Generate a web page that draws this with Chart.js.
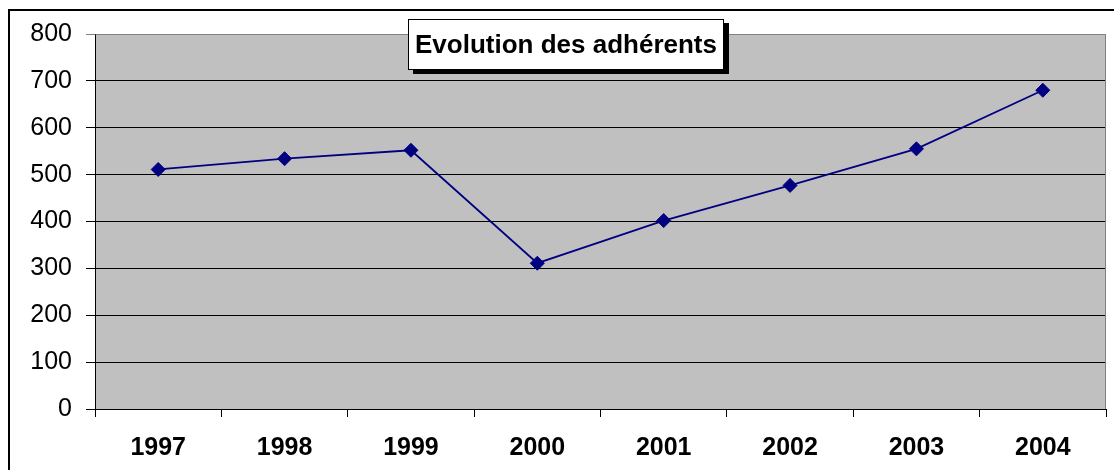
<!DOCTYPE html>
<html>
<head>
<meta charset="utf-8">
<script src="https://cdn.jsdelivr.net/npm/chart.js@4/dist/chart.umd.min.js"></script>
<style>
  html, body { margin: 0; padding: 0; background: #fff; }
  canvas { display: block; }
</style>
</head>
<body>
<canvas id="c" width="1114" height="470"></canvas>
<script>
const categories = ["1997", "1998", "1999", "2000", "2001", "2002", "2003", "2004"];
const adherents = [511, 534, 552, 311, 402, 477, 555, 680];
const chartTitle = "Evolution des adhérents";
const yMin = 0, yMax = 800, yStep = 100;

const FONT = "'Liberation Sans', Arial, sans-serif";

const decor = {
  id: 'decor',
  beforeDraw(chart) {
    const { ctx, chartArea: a } = chart;
    ctx.save();
    ctx.fillStyle = '#ffffff';
    ctx.fillRect(0, 0, chart.width, chart.height);
    ctx.fillStyle = '#c0c0c0';
    ctx.fillRect(a.left, a.top, a.right - a.left, a.bottom - a.top);
    ctx.restore();
  },
  beforeDatasetsDraw(chart) {
    const { ctx, chartArea: a } = chart;
    ctx.save();
    ctx.strokeStyle = '#808080';
    ctx.lineWidth = 1;
    ctx.beginPath();
    ctx.moveTo(Math.round(a.left) + 0.5, Math.round(a.top) + 0.5);
    ctx.lineTo(Math.round(a.right) - 0.5, Math.round(a.top) + 0.5);
    ctx.lineTo(Math.round(a.right) - 0.5, Math.round(a.bottom));
    ctx.stroke();
    ctx.restore();
  },
  afterDraw(chart) {
    const { ctx } = chart;
    ctx.save();
    // outer chart border
    ctx.strokeStyle = '#000';
    ctx.lineWidth = 2;
    ctx.strokeRect(9, 10, 1200, 600);
    // title box with shadow
    const bx = 408, by = 19, bw = 316, bh = 51;
    ctx.fillStyle = '#000';
    ctx.fillRect(bx + 5, by + 4, bw, bh);
    ctx.fillStyle = '#fff';
    ctx.fillRect(bx, by, bw, bh);
    ctx.lineWidth = 1;
    ctx.strokeStyle = '#000';
    ctx.strokeRect(bx + 0.5, by + 0.5, bw - 1, bh - 1);
    ctx.fillStyle = '#000';
    ctx.font = "bold 26px " + FONT;
    ctx.textAlign = 'center';
    ctx.textBaseline = 'middle';
    ctx.fillText(chartTitle, bx + bw / 2, by + bh / 2 + 1);
    ctx.restore();
  }
};

new Chart(document.getElementById('c'), {
  type: 'line',
  data: {
    labels: categories,
    datasets: [{
      data: adherents,
      borderColor: '#000080',
      backgroundColor: '#000080',
      borderWidth: 1.8,
      pointStyle: 'rectRot',
      pointRadius: 7,
      pointBorderWidth: 1,
      pointBorderColor: '#000080',
      pointBackgroundColor: '#000080',
      tension: 0,
      fill: false
    }]
  },
  options: {
    responsive: false,
    devicePixelRatio: 1,
    animation: false,
    layout: { padding: { top: 34, right: 4, left: 0, bottom: 0 } },
    plugins: { legend: { display: false }, title: { display: false }, tooltip: { enabled: false } },
    scales: {
      x: {
        type: 'category',
        offset: true,
        grid: { offset: true, drawOnChartArea: false, drawTicks: true, tickLength: 8, color: '#000' },
        border: { display: true, color: '#000', width: 1 },
        ticks: { autoSkip: false, maxRotation: 0, color: '#000', padding: 16,
                 font: { family: FONT, size: 25, weight: 'bold' } },
        afterFit(s) { s.height = 61; }
      },
      y: {
        min: yMin, max: yMax,
        grid: {
          color: (c) => (c.tick && c.tick.value === yMax) ? '#808080' : '#000',
          tickLength: 9, drawTicks: true
        },
        border: { display: true, color: '#000', width: 1 },
        ticks: { stepSize: yStep, color: '#000', padding: 14,
                 font: { family: FONT, size: 25 } },
        afterFit(s) { s.width = 95; }
      }
    }
  },
  plugins: [decor]
});
</script>
</body>
</html>
